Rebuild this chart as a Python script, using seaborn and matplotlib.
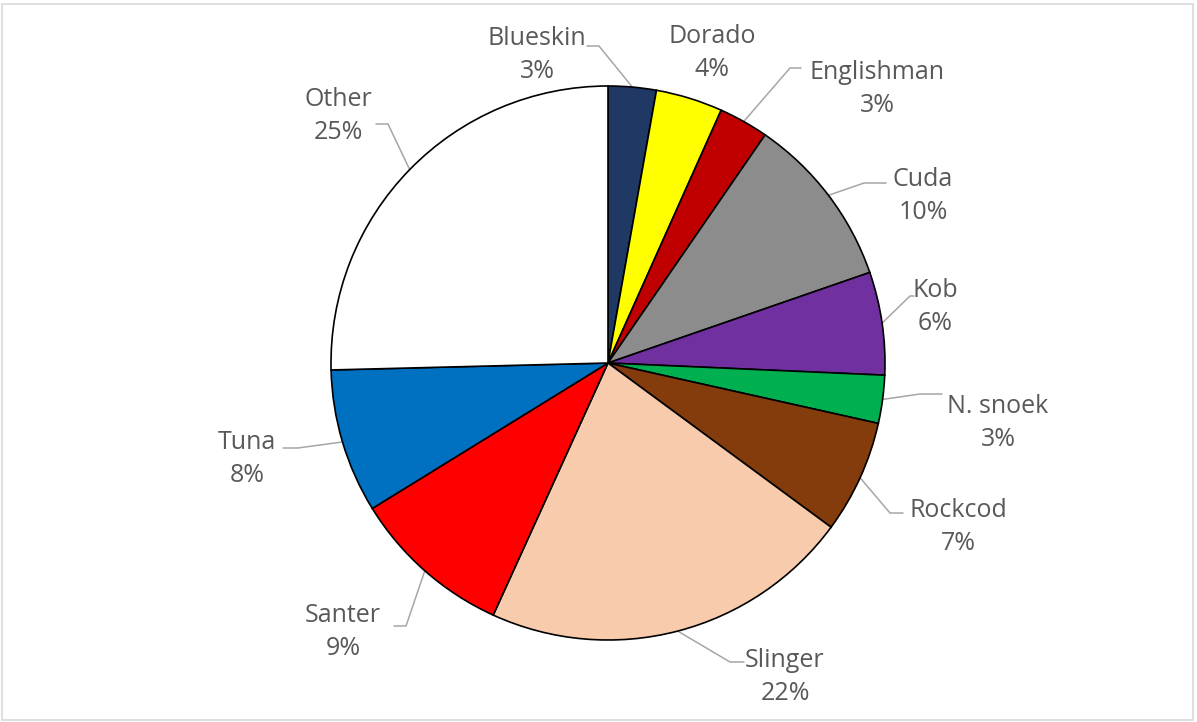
import numpy as np
import matplotlib
matplotlib.use("Agg")
import matplotlib.pyplot as plt
import seaborn as sns

# ---- data (share of catch, %) ----
species = ['Blueskin', 'Dorado', 'Englishman', 'Cuda', 'Kob', 'N. snoek',
           'Rockcod', 'Slinger', 'Santer', 'Tuna', 'Other']
share = [2.8, 3.9, 2.9, 10.1, 6.0, 2.8, 6.6, 21.7, 9.4, 8.4, 25.4]
colors = ['#1f3864', '#ffff00', '#c00000', '#8c8c8c', '#7030a0', '#00b050',
          '#843c0c', '#f8cbad', '#ff0000', '#0070c0', '#ffffff']

# ---- label layout (pixel coords: text centre, leader elbow, leader end) ----
W, H = 1197, 722
label_pos = [(537, 55), (712, 53), (877, 89), (923, 196), (935, 307), (998, 423),
             (958, 527), (785, 677), (343, 632), (247, 459), (338, 116)]
elbow = [(599, 46), None, (790, 68), (864, 183), (910, 296), (920, 394),
         (890, 513), (730, 662), (406, 626), (298, 448), (388, 124)]
tail = [(587, 46), None, (801, 68), (886, 183), (914, 296), (942, 394),
        (903, 513), (744, 662), (394, 626), (283, 448), (376, 124)]

sns.set_theme(style='white')
plt.rcParams['font.family'] = ['Open Sans', 'DejaVu Sans']

fig = plt.figure(figsize=(W / 100, H / 100), dpi=100)
ax = fig.add_axes([0, 0, 1, 1])

cx, cy, r = 608, H - 363, 277
wedges, _ = ax.pie(share, colors=colors, startangle=90, counterclock=False,
                   center=(cx, cy), radius=r,
                   wedgeprops=dict(edgecolor='black', linewidth=1.2))
ax.set_xlim(0, W)
ax.set_ylim(0, H)
ax.set_aspect('equal')
ax.axis('off')

total = sum(share)
for i, w in enumerate(wedges):
    pct = share[i] / total * 100
    tx, ty = label_pos[i]
    ax.text(tx, H - ty, f'{species[i]}\n{pct:.0f}%', ha='center', va='center',
            fontsize=18, color='#595959', linespacing=1.38)
    if elbow[i] is None:
        continue
    mid = np.deg2rad((w.theta1 + w.theta2) / 2)
    ex, ey = cx + r * np.cos(mid), cy + r * np.sin(mid)
    xs = [ex, elbow[i][0], tail[i][0]]
    ys = [ey, H - elbow[i][1], H - tail[i][1]]
    ax.plot(xs, ys, color='#a6a6a6', linewidth=1.1, zorder=0.5)

# chart border
fig.patches.append(plt.Rectangle((0.002, 0.003), 0.995, 0.991, transform=fig.transFigure,
                                 fill=False, edgecolor='#d9d9d9', linewidth=1.2))

fig.savefig('out.png', dpi=100, facecolor='white')
